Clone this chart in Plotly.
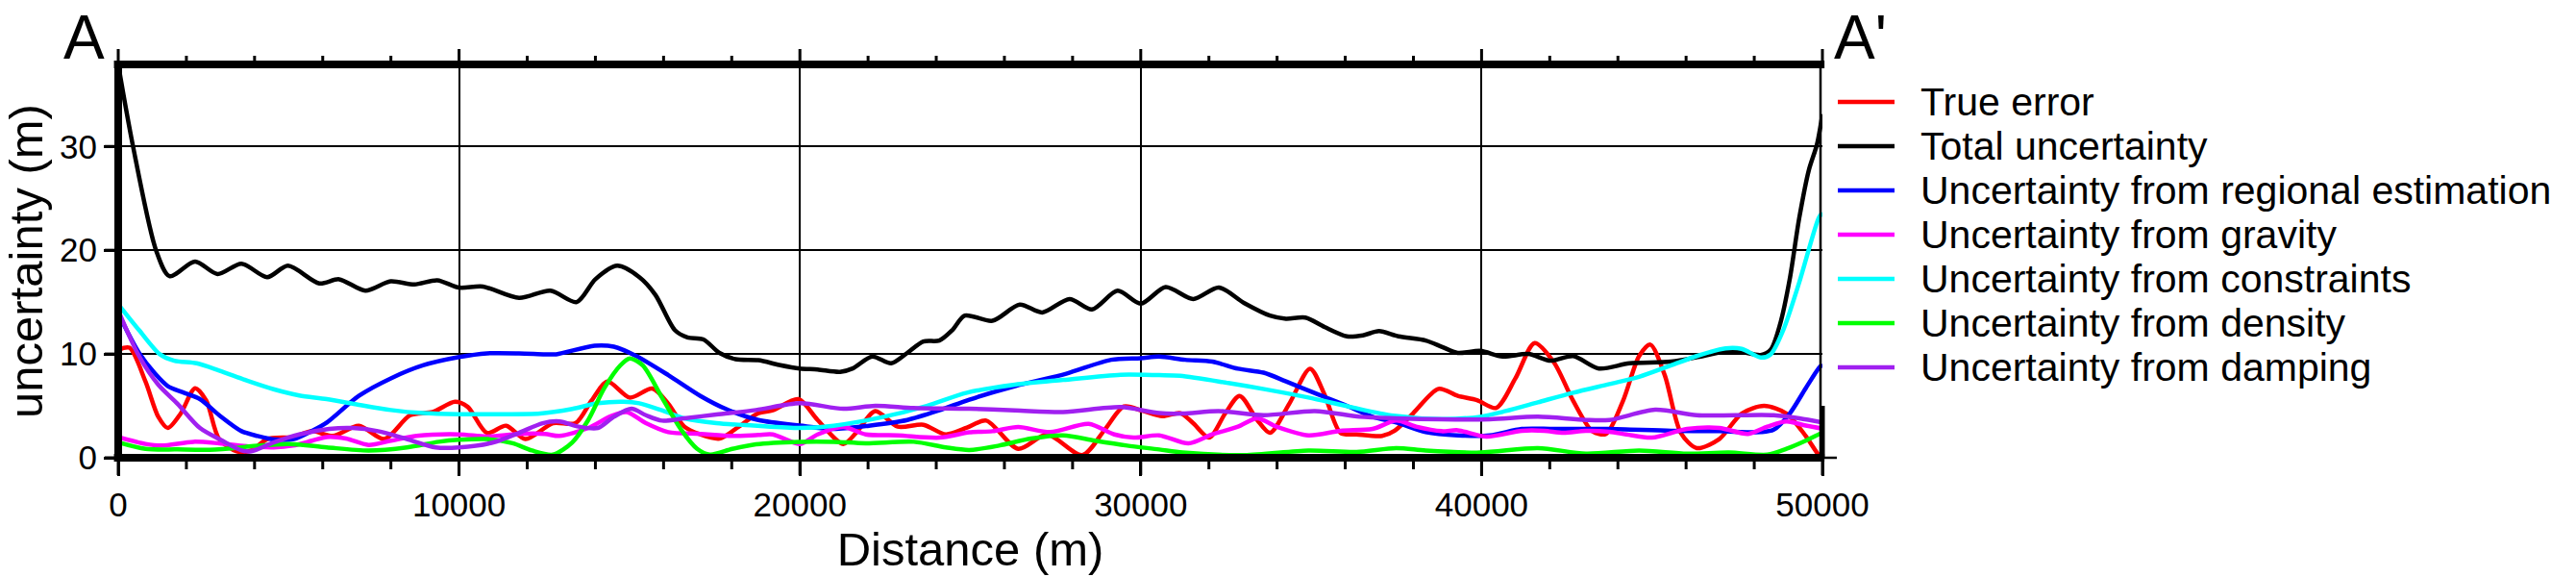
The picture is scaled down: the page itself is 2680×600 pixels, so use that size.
import plotly.graph_objects as go

# ---------------- data ----------------
true_error_x = [0, 329, 799, 1175, 1457, 1833, 2256, 2585, 2961, 3500, 3901, 4371, 5123, 5687, 6300,
                7059, 7811, 8563, 9221, 9879, 10255, 10819, 11383, 11947, 12756, 13414, 13884, 14354,
                15012, 15670, 16140, 16610, 17080, 17644, 18208, 18781, 19204, 19956, 20520, 21272,
                21648, 22212, 22870, 23622, 24280, 24901, 25465, 26405, 27251, 28285, 28943, 29507,
                30071, 30635, 31161, 31537, 32007, 32477, 32900, 33417, 33793, 34357, 34968, 35391,
                35861, 36331, 37083, 37450, 37985, 38737, 39301, 39865, 40429, 40993, 41557, 42121,
                42685, 43249, 43650, 44152, 44622, 44951, 45374, 45844, 46314, 46972, 47630, 48288,
                48946, 49510, 49886, 50000]
true_error_y = [10.4, 10.6, 7.35, 3.95, 2.87, 4.26, 6.7, 5.5, 1.8, 0.6, 0.7, 1.8, 2.0, 2.56, 2.1,
                3.09, 1.8, 4.1, 4.4, 5.4, 4.9, 2.4, 3.09, 1.8, 3.33, 3.33, 5.5, 7.35,
                5.8, 6.67, 5.2, 3.0, 2.25, 1.85, 3.0, 4.3, 4.57, 5.65, 3.64, 1.33,
                2.4, 4.5, 3.0, 3.18, 2.25, 2.9, 3.58, 0.86, 2.25, 0.25, 2.7, 4.94,
                4.5, 4.0, 4.3, 3.33, 1.94, 4.26, 5.96, 3.64, 2.4, 5.2, 8.58, 6.1,
                2.4, 2.25, 2.1, 2.6, 4.26, 6.64, 5.96, 5.55, 4.8, 7.65, 11.05, 9.2,
                5.5, 2.56, 2.3, 5.5, 9.8, 10.9, 7.96, 2.4, 0.93, 1.8, 4.26, 5.0,
                4.26, 2.1, 0.3, 0.1]

total_x = [0, 423, 1109, 1504, 2256, 2914, 3618, 4370, 4981, 5900, 6480, 7250, 7990, 8690, 9360,
           10000, 10700, 11760, 12680, 13450, 14000, 14640, 15290, 15760, 16330, 16700, 17170,
           17640, 18110, 18780, 19390, 20000, 20520, 21180, 21550, 22120, 22680, 23150, 23620,
           24090, 24470, 24840, 25650, 26450, 27110, 27910, 28570, 29320, 30000, 30730, 31540,
           32290, 33040, 33790, 34260, 34830, 35390, 36050, 36520, 36990, 37560, 38360, 38830,
           39300, 39960, 40620, 41370, 42030, 42690, 43440, 44340, 45560, 46500, 47250, 47630,
           48190, 48480, 48760, 49040, 49320, 49600, 49840, 50000]
total_y = [37.9, 30.2, 20.0, 17.5, 18.9, 17.7, 18.7, 17.4, 18.5, 16.8, 17.2, 16.1, 17.0, 16.7, 17.1,
           16.4, 16.5, 15.4, 16.1, 15.0, 17.2, 18.5, 17.4, 15.7, 12.3, 11.6, 11.4,
           10.1, 9.5, 9.4, 8.95, 8.6, 8.5, 8.27, 8.6, 9.75, 9.1, 10.1, 11.2,
           11.3, 12.3, 13.7, 13.2, 14.75, 14.0, 15.3, 14.3, 16.1, 14.85, 16.45, 15.3,
           16.4, 14.9, 13.7, 13.4, 13.5, 12.6, 11.7, 11.8, 12.2, 11.7, 11.3, 10.7,
           10.1, 10.3, 9.75, 10.0, 9.35, 9.8, 8.6, 9.1, 9.26, 9.8, 10.3, 10.2,
           9.9, 10.4, 12.9, 17.2, 23.1, 27.7, 30.2, 33.1]

regional_x = [0, 611, 1081, 1457, 1927, 2397, 2961, 3619, 4089, 4600, 5150, 5690, 6120, 7059, 7999,
              8939, 10001, 10819, 11759, 12520, 12850, 13978, 14542, 15200, 16140, 17080, 17832,
              18781, 20003, 20990, 22024, 23152, 24092, 24970, 26311, 27815, 29131, 30005, 30541,
              31302, 32101, 32853, 33605, 34263, 35203, 36049, 36801, 37500, 38361, 39301, 40241,
              41181, 42121, 43700, 45562, 46972, 48194, 48570, 49040, 49510, 49886, 50000]
regional_y = [13.9, 10.1, 8.1, 6.9, 6.27, 5.65, 4.1, 2.56, 2.1, 1.75, 1.8, 2.6, 3.4, 5.96, 7.65,
              8.9, 9.7, 10.06, 10.06, 9.97, 9.97, 10.8, 10.7, 9.8, 7.96, 5.96, 4.7,
              3.64, 3.1, 2.78, 3.09, 3.64, 4.57, 5.6, 6.9, 8.1, 9.44, 9.6, 9.75,
              9.44, 9.26, 8.58, 8.2, 7.35, 6.1, 5.0, 3.95, 3.4, 2.47, 2.16, 2.16,
              2.78, 2.78, 2.78, 2.6, 2.56, 2.47, 2.7, 4.26, 6.7, 8.6, 9.0]

gravity_x = [0, 799, 1269, 2209, 2961, 3807, 4559, 5123, 5687, 6119, 6683, 7341, 7999, 8751, 10001,
             10819, 11759, 12520, 12944, 13790, 14448, 14918, 15482, 16140, 17080, 18020, 18781,
             19204, 20003, 20520, 21272, 21930, 22870, 24092, 24970, 25653, 26405, 27345, 28473,
             29225, 29789, 30541, 31400, 32101, 32853, 33417, 33981, 34921, 35861, 36801, 37500,
             38079, 38831, 39301, 40147, 41181, 41839, 42403, 43061, 43750, 44246, 44998, 46032,
             46972, 47818, 48382, 48946, 49510, 50000]
gravity_y = [2.0, 1.33, 1.17, 1.54, 1.39, 1.1, 1.0, 1.17, 1.64, 2.0, 1.85, 1.23, 1.64, 2.1, 2.25,
             2.04, 2.3, 2.3, 2.1, 2.87, 4.0, 4.4, 3.33, 2.47, 2.3, 2.1, 2.2,
             2.25, 1.33, 2.25, 2.96, 2.25, 2.16, 1.94, 2.45, 2.56, 2.96, 2.47, 3.27,
             2.25, 1.94, 2.16, 1.38, 2.25, 3.0, 3.8, 3.0, 2.16, 2.6, 2.78, 3.58,
             3.0, 2.56, 2.65, 2.04, 2.6, 2.6, 2.4, 2.6, 2.5, 2.25, 1.94, 2.78,
             2.87, 2.3, 3.0, 3.5, 3.1, 2.8]

constraints_x = [0, 611, 1222, 1645, 2303, 2961, 3807, 4559, 5311, 6119, 7059, 8000, 8940, 10000,
                 10820, 12380, 13320, 14070, 14820, 15290, 15950, 16610, 17550, 18640, 20000, 20990,
                 22400, 23720, 24900, 26310, 27720, 29410, 30540, 31160, 32570, 33700, 34920, 36140,
                 37420, 38830, 39960, 40710, 41650, 42690, 43750, 44620, 45560, 46310, 47160, 47630,
                 48190, 48480, 48850, 49320, 49890, 50000]
constraints_y = [14.8, 12.3, 9.97, 9.35, 9.1, 8.4, 7.4, 6.6, 6.0, 5.65, 5.1, 4.6, 4.3, 4.2,
                 4.2, 4.26, 4.7, 5.25, 5.4, 5.25, 4.57, 3.8, 3.33, 3.1, 2.87, 3.09,
                 3.9, 5.0, 6.27, 7.04, 7.5, 8.0, 7.96, 7.9, 7.2, 6.57, 5.8, 4.9,
                 4.05, 3.73, 3.95, 4.5, 5.34, 6.27, 7.1, 7.8, 8.9, 9.8, 10.55, 10.5,
                 9.66, 9.97, 12.3, 16.9, 23.1, 23.6]

density_x = [0, 799, 1739, 2679, 3619, 4089, 5029, 6119, 7341, 8469, 9409, 10001, 10819, 11571,
             12135, 12756, 13320, 13790, 14260, 14730, 15012, 15388, 15952, 16516, 16986, 17362,
             18020, 18710, 20003, 20990, 21930, 23340, 24280, 24970, 25841, 26781, 27721, 28661,
             29601, 30541, 31230, 33041, 34921, 36331, 37490, 38361, 39959, 41651, 43061, 44622,
             46032, 47254, 48382, 48946, 49510, 49886, 50000]
density_y = [1.5, 0.86, 0.8, 0.77, 1.0, 1.17, 1.33, 1.0, 0.7, 1.0, 1.54, 1.73, 1.8, 1.4,
             0.7, 0.3, 1.48, 3.64, 6.7, 8.9, 9.57, 8.9, 5.8, 2.7, 0.86, 0.3,
             0.86, 1.3, 1.54, 1.54, 1.39, 1.54, 1.0, 0.75, 1.17, 1.85, 2.16, 1.64,
             1.17, 0.8, 0.5, 0.25, 0.7, 0.56, 0.93, 0.7, 0.5, 0.93, 0.4, 0.7,
             0.4, 0.5, 0.3, 0.86, 1.64, 2.25, 2.4]

damping_x = [0, 611, 1175, 1739, 2397, 3055, 3619, 3901, 4559, 5311, 6190, 6871, 7623, 8469, 9315,
             10001, 11007, 11759, 12450, 12944, 13508, 14072, 14542, 15059, 15482, 15952, 16610,
             17550, 18710, 20003, 21272, 22212, 23340, 24970, 26311, 27721, 29413, 30541, 31230,
             32289, 33605, 35109, 36425, 37490, 38831, 40241, 41651, 43061, 43750, 45092, 46314,
             47442, 48570, 49322, 50000]
damping_y = [14.2, 9.8, 7.04, 5.2, 2.87, 1.64, 0.7, 0.62, 1.48, 2.25, 2.78, 2.87, 2.56, 1.8, 1.0,
             1.0, 1.48, 2.4, 3.33, 3.5, 3.0, 2.87, 3.95, 4.72, 4.1, 3.58, 3.8,
             4.17, 4.6, 5.25, 4.72, 5.0, 4.8, 4.72, 4.57, 4.4, 4.88, 4.3, 4.26,
             4.5, 4.1, 4.5, 3.95, 3.8, 3.7, 3.7, 3.95, 3.64, 3.64, 4.63, 4.1,
             4.1, 4.1, 3.8, 3.4]

series_names = ["True error", "Total uncertainty", "Uncertainty from regional estimation",
                "Uncertainty from gravity", "Uncertainty from constraints",
                "Uncertainty from density", "Uncertainty from damping"]
series_colors = ["#ff0000", "#000000", "#0000ff", "#ff00ff", "#00ffff", "#00ff00", "#a020f0"]
series_data = [(true_error_x, true_error_y), (total_x, total_y), (regional_x, regional_y),
               (gravity_x, gravity_y), (constraints_x, constraints_y),
               (density_x, density_y), (damping_x, damping_y)]

x_ticks = [0, 10000, 20000, 30000, 40000, 50000]
x_minor_ticks = [2000, 4000, 6000, 8000, 12000, 14000, 16000, 18000, 22000, 24000, 26000, 28000,
                 32000, 34000, 36000, 38000, 42000, 44000, 46000, 48000]
y_ticks = [0, 10, 20, 30]
x_range = [0, 50000]
y_range = [0, 37.9]

# ---------------- figure ----------------
W, H = 2680, 600
L, R, T, B = 123, 784, 67, 124
PW, PH = W - L - R, H - T - B
FONT = "Liberation Sans, Arial, Helvetica, sans-serif"


def px2paper_x(px):
    return (px - L) / PW


def px2paper_y(py):
    return (H - B - py) / PH


def xdata2paper(v):
    return (v - x_range[0]) / (x_range[1] - x_range[0])


def ydata2paper(v):
    return (v - y_range[0]) / (y_range[1] - y_range[0])


fig = go.Figure()
for (xs, ys), name, color in zip(series_data, series_names, series_colors):
    fig.add_trace(go.Scatter(x=xs, y=ys, mode="lines", name=name, showlegend=False,
                             line=dict(color=color, width=4.5, shape="spline", smoothing=0.8)))

fig.update_layout(
    width=W, height=H,
    margin=dict(l=L, r=R, t=T, b=B, autoexpand=False),
    paper_bgcolor="white", plot_bgcolor="white",
    font=dict(family=FONT, color="black"),
    showlegend=False,
)

fig.update_layout(
    xaxis=dict(
        range=x_range, tickmode="array", tickvals=x_ticks, ticktext=[str(v) for v in x_ticks],
        showgrid=True, gridcolor="black", gridwidth=2,
        zeroline=False, showline=False,
        ticks="outside", ticklen=18, tickwidth=3, tickcolor="black",
        tickfont=dict(size=35, family=FONT, color="black"),
        title=dict(text="Distance (m)", font=dict(size=49, family=FONT, color="black"), standoff=8),
        automargin=False,
    ),
    yaxis=dict(
        range=y_range, tickmode="array", tickvals=y_ticks, ticktext=[str(v) for v in y_ticks],
        showgrid=True, gridcolor="black", gridwidth=2,
        zeroline=False, showline=False,
        ticks="outside", ticklen=14, tickwidth=3, tickcolor="black",
        tickfont=dict(size=35, family=FONT, color="black"),
        title=dict(text="uncertainty (m)", font=dict(size=49, family=FONT, color="black"),
                   standoff=34),
        automargin=False,
    ),
)

# tick marks (GMT style: long major / short minor, on bottom and top; major on left)
pp = dict(type="line", xref="paper", yref="paper", layer="above")
tick = dict(color="black", width=3)
for xv in x_ticks:
    xp = xdata2paper(xv)
    fig.add_shape(**pp, x0=xp, x1=xp, y0=0, y1=-18 / PH, line=tick)
    fig.add_shape(**pp, x0=xp, x1=xp, y0=1, y1=1 + 16 / PH, line=tick)
for xv in x_minor_ticks:
    xp = xdata2paper(xv)
    fig.add_shape(**pp, x0=xp, x1=xp, y0=0, y1=-12 / PH, line=tick)
    fig.add_shape(**pp, x0=xp, x1=xp, y0=1, y1=1 + 9 / PH, line=tick)
for yv in y_ticks:
    yp = ydata2paper(yv)
    fig.add_shape(**pp, x0=0, x1=-14 / PW, y0=yp, y1=yp, line=tick)

# frame (GMT style)
fig.add_shape(**pp, x0=-0.0025, x1=1.0012, y0=0, y1=0, line=dict(color="black", width=8))
fig.add_shape(**pp, x0=-0.0025, x1=1.0012, y0=1, y1=1, line=dict(color="black", width=8))
fig.add_shape(**pp, x0=0, x1=0, y0=-0.01, y1=1.01, line=dict(color="black", width=8))
fig.add_shape(**pp, x0=1 - 2 / PW, x1=1 - 2 / PW, y0=0, y1=1, line=dict(color="black", width=2.5))
fig.add_shape(**pp, x0=1, x1=1, y0=0, y1=ydata2paper(5), line=dict(color="black", width=5))
fig.add_shape(**pp, x0=1, x1=1 + 15 / PW, y0=0, y1=0, line=dict(color="black", width=2.5))

# section labels
fig.add_annotation(text="A", xref="paper", yref="paper", x=px2paper_x(87), y=px2paper_y(1),
                   xanchor="center", yanchor="top", showarrow=False,
                   font=dict(size=64, family=FONT, color="black"))
fig.add_annotation(text="A'", xref="paper", yref="paper", x=px2paper_x(1906), y=px2paper_y(1),
                   xanchor="left", yanchor="top", showarrow=False,
                   font=dict(size=64, family=FONT, color="black"))

# legend (drawn beside the plot, GMT style)
leg_y0, leg_dy = 106, 46
for i, (name, color) in enumerate(zip(series_names, series_colors)):
    yy = px2paper_y(leg_y0 + i * leg_dy)
    fig.add_shape(type="line", xref="paper", yref="paper", x0=px2paper_x(1912), x1=px2paper_x(1971),
                  y0=yy, y1=yy, line=dict(color=color, width=4.5))
    fig.add_annotation(text=name, xref="paper", yref="paper", x=px2paper_x(1996), y=yy,
                       xanchor="left", yanchor="middle", showarrow=False,
                       font=dict(size=41, family=FONT, color="black"))

fig.write_html("out.html")
